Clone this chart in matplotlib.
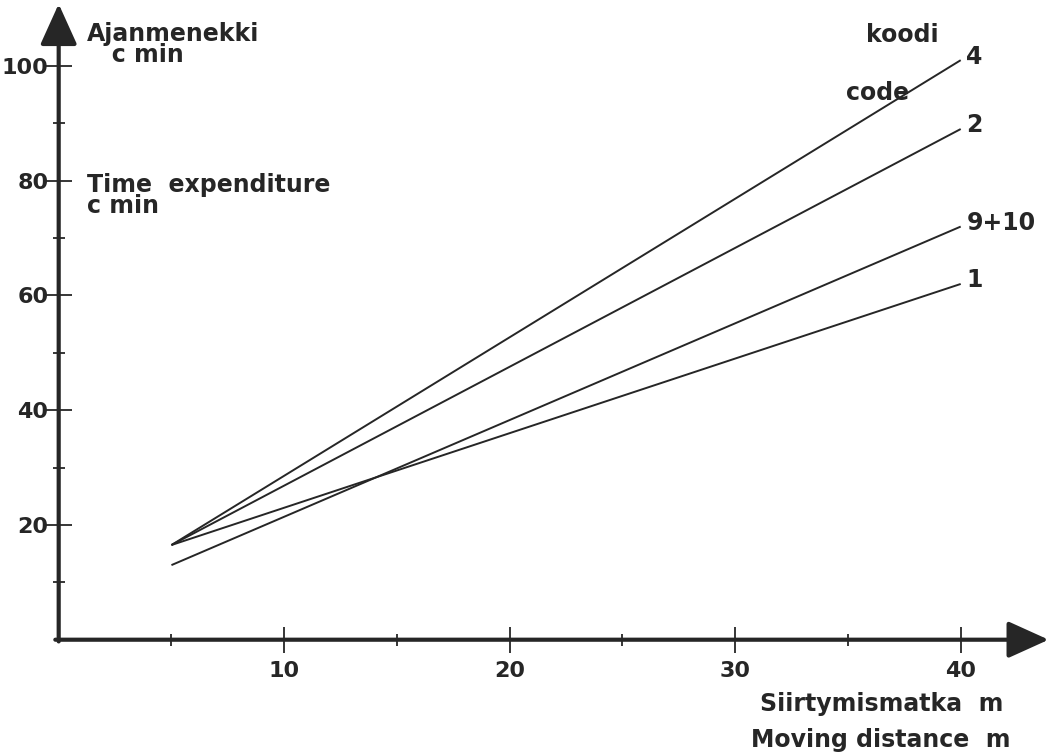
"""Ajanmenekki siirtymismatkan funktiona
"""
import matplotlib.pyplot as plt

# siirtymismatka (m) ja ajanmenekki (cmin) koodeittain
distance = [5, 40]
codes = ["4", "2", "9+10", "1"]
time_4 = [16.5, 101]
time_2 = [16.5, 89]
time_9_10 = [13, 72]
time_1 = [16.5, 62]
series = [time_4, time_2, time_9_10, time_1]

x_major = [10, 20, 30, 40]
x_minor = [5, 15, 25, 35]
y_major = [20, 40, 60, 80, 100]
y_minor = [10, 30, 50, 70, 90]

ink = "#262626"
plt.rcParams["font.family"] = ["DejaVu Sans"]
plt.rcParams["font.weight"] = "bold"

fig = plt.figure(figsize=(10.5, 7.55), dpi=100)
ax = fig.add_axes([0.0559, 0.1527, 0.96, 0.836])
ax.set_xlim(0, 44.7)
ax.set_ylim(0, 110)

for s in series:
    ax.plot(distance, s, color=ink, lw=1.4, solid_capstyle="butt")

# akselit nuolineen
for sp in ax.spines.values():
    sp.set_visible(False)
arrow = dict(arrowstyle="-|>,head_length=0.42,head_width=0.19",
             mutation_scale=60, lw=3, color=ink, shrinkA=0, shrinkB=0)
ax.annotate("", xy=(0, 110.8), xytext=(0, -0.3), arrowprops=arrow,
            annotation_clip=False)
ax.annotate("", xy=(43.9, 0), xytext=(-0.15, 0), arrowprops=arrow,
            annotation_clip=False)

ax.set_xticks(x_major)
ax.set_xticks(x_minor, minor=True)
ax.set_yticks(y_major)
ax.set_yticks(y_minor, minor=True)
ax.tick_params(which="major", direction="inout", length=19, width=1.3,
               color=ink, labelcolor=ink, labelsize=16, pad=2)
ax.tick_params(which="minor", direction="inout", length=9, width=1.3, color=ink)
ax.tick_params(axis="x", which="major", pad=6)
ax.tick_params(axis="y", which="major", pad=-2)
for lbl in ax.get_xticklabels() + ax.get_yticklabels():
    lbl.set_fontweight("bold")

kw = dict(color=ink, fontsize=17, fontweight="bold", clip_on=False)
# monirivisessä tekstissä baseline tarkoittaa viimeistä riviä
ax.text(1.26, 100.6, "Ajanmenekki\n   c min", va="baseline", linespacing=0.85,
        **kw)
ax.text(1.26, 74.3, "Time  expenditure\nc min", va="baseline", linespacing=0.85,
        **kw)
ax.text(35.8, 104.1, "koodi", va="baseline", **kw)
ax.text(34.9, 94.0, "code", va="baseline", **kw)

# koodien nimet viivojen päihin
for name, s in zip(codes, series):
    ax.text(distance[-1] + 0.25, s[-1] - 0.6, name, va="baseline", **kw)

ax.text(31.1, -12.4, "Siirtymismatka  m", va="baseline", **kw)
ax.text(30.7, -18.7, "Moving distance  m", va="baseline", **kw)

fig.savefig("out.png", dpi=100)
